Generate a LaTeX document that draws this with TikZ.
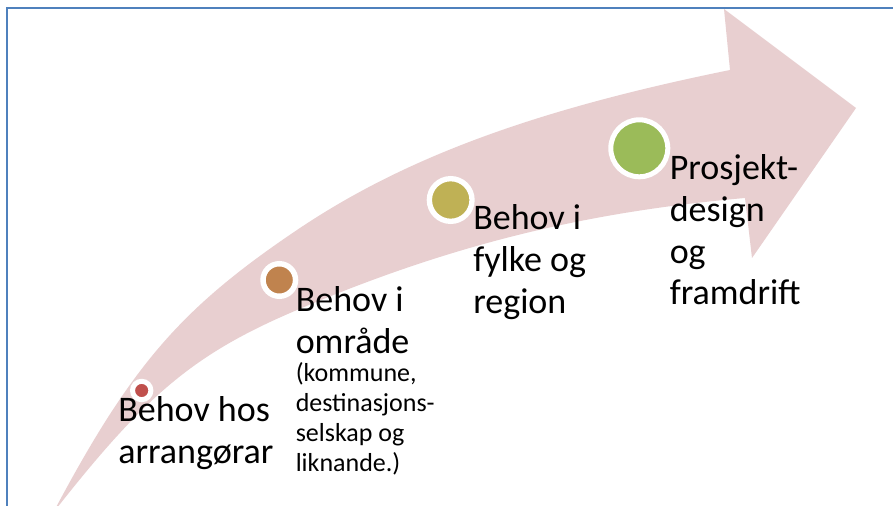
\documentclass[tikz,border=0pt]{standalone}
\usepackage{fontspec}
\setmainfont{Carlito}
\definecolor{arrowpink}{HTML}{E8CFD0}
\definecolor{borderblue}{HTML}{4F81BD}
\definecolor{dotred}{HTML}{C0504D}
\definecolor{dotbrown}{HTML}{C0834E}
\definecolor{dotolive}{HTML}{BFB155}
\definecolor{dotgreen}{HTML}{9BBB59}
\begin{document}
\begin{tikzpicture}[x=0.75pt,y=-0.75pt,
  bigtext/.style={anchor=base west,inner sep=0pt,font=\fontsize{27}{31.3}\selectfont},
  smalltext/.style={anchor=base west,inner sep=0pt,font=\fontsize{19.5}{22.5}\selectfont},
  dot/.style={circle,inner sep=0pt,draw=white}]
\useasboundingbox (0,0) rectangle (893,506);
\fill[white] (0,0) rectangle (893,506);
\clip (0,0) rectangle (893,506);
% arrow
\fill[arrowpink] (53,513)
  .. controls (131.5,365.3) and (180.3,308.7) .. (297,230)
  .. controls (404.1,157.8) and (534,109.8) .. (730,70)
  -- (724,9) -- (856,108) -- (752,258) -- (745,198)
  .. controls (582.6,212.2) and (448.2,245.8) .. (297,310)
  .. controls (194.8,353.4) and (146,394) .. (53,513) -- cycle;
% border
\draw[borderblue,line width=1.5pt] (893,8) -- (7,8) -- (7,506);
% dots
\node[dot,fill=dotred,minimum size=13.8pt,line width=3.75pt] (d1) at (141.7,390.5) {};
\node[dot,fill=dotbrown,minimum size=24.4pt,line width=4.1pt] (d2) at (279.3,280) {};
\node[dot,fill=dotolive,minimum size=32pt,line width=4pt] (d3) at (450.7,200) {};
\node[dot,fill=dotgreen,minimum size=42.75pt,line width=3.75pt] (d4) at (639.3,148.3) {};
% labels
\node[bigtext] (t1a) at (118,421.7) {Behov hos};
\node[bigtext] (t1b) at (118,463.4) {arrangørar};
\node[bigtext] (t2a) at (295.5,311.7) {Behov i};
\node[bigtext] (t2b) at (295.5,353.3) {område};
\node[smalltext] (t2c) at (295.5,381.7) {(kommune,};
\node[smalltext] (t2d) at (295.5,411.7) {destinasjons-};
\node[smalltext] (t2e) at (295.5,441.7) {selskap og};
\node[smalltext] (t2f) at (295.5,471.7) {liknande.)};
\node[bigtext] (t3a) at (473,230) {Behov i};
\node[bigtext] (t3b) at (473,271.7) {fylke og};
\node[bigtext] (t3c) at (473,313.4) {region};
\node[bigtext] (t4a) at (669.5,180) {Prosjekt-};
\node[bigtext] (t4b) at (669.5,221.7) {design};
\node[bigtext] (t4c) at (669.5,263.4) {og};
\node[bigtext] (t4d) at (669.5,305) {framdrift};
\end{tikzpicture}
\end{document}
